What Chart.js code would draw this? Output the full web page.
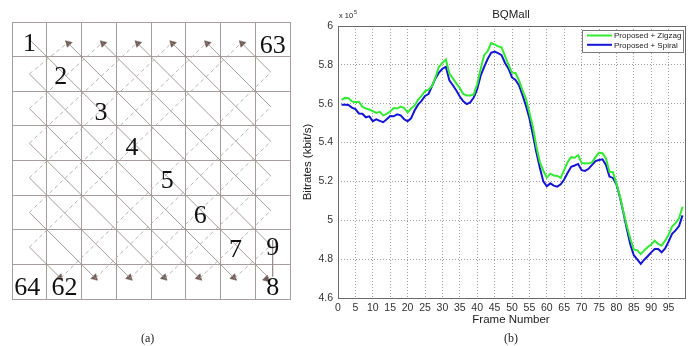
<!DOCTYPE html>
<html>
<head>
<meta charset="utf-8">
<title>Scan order and BQMall bitrates</title>
<script src="https://cdn.jsdelivr.net/npm/chart.js@4.4.1/dist/chart.umd.min.js"></script>
<style>
html, body { margin: 0; padding: 0; background: #fff; }
#page { position: relative; width: 689px; height: 346px; overflow: hidden; }
#scan { position: absolute; left: 0; top: 0; }
#rate { position: absolute; left: 290px; top: 0; }
.cap { position: absolute; top: 331px; font: 12px "Liberation Serif", serif; color: #222; }
</style>
</head>
<body>
<div id="page">
  <canvas id="scan" width="300" height="346"></canvas>
  <canvas id="rate" width="399" height="346"></canvas>
  <div class="cap" style="left:141px">(a)</div>
  <div class="cap" style="left:504px">(b)</div>
</div>
<script>
// ---- (b) data: bitrate per frame, in units of 1e5 kbit/s ----
var zigzag = [
  5.620, 5.630, 5.628, 5.612, 5.608, 5.610, 5.585, 5.575, 5.570, 5.562,
  5.553, 5.558, 5.540, 5.548, 5.560, 5.578, 5.575, 5.585, 5.578, 5.555,
  5.575, 5.590, 5.620, 5.640, 5.665, 5.672, 5.690, 5.735, 5.790, 5.810,
  5.828, 5.755, 5.730, 5.705, 5.680, 5.650, 5.642, 5.642, 5.648, 5.700,
  5.780, 5.850, 5.870, 5.912, 5.905, 5.895, 5.890, 5.845, 5.800, 5.760,
  5.758, 5.720, 5.670, 5.625, 5.555, 5.480, 5.380, 5.300, 5.255, 5.220,
  5.240, 5.230, 5.228, 5.218, 5.260, 5.300, 5.325, 5.322, 5.335, 5.295,
  5.292, 5.293, 5.298, 5.325, 5.348, 5.345, 5.318, 5.250, 5.248, 5.190,
  5.125, 5.045, 4.970, 4.905, 4.850, 4.845, 4.826, 4.845, 4.862, 4.875,
  4.895, 4.878, 4.870, 4.895, 4.925, 4.968, 4.985, 5.010, 5.070
];
var spiral = [
  5.595, 5.595, 5.594, 5.580, 5.572, 5.550, 5.548, 5.530, 5.535, 5.510,
  5.520, 5.512, 5.505, 5.520, 5.537, 5.535, 5.545, 5.540, 5.520, 5.510,
  5.525, 5.565, 5.595, 5.615, 5.640, 5.650, 5.690, 5.730, 5.760, 5.780,
  5.790, 5.720, 5.695, 5.668, 5.637, 5.612, 5.598, 5.607, 5.632, 5.675,
  5.745, 5.790, 5.830, 5.862, 5.868, 5.860, 5.850, 5.810, 5.780, 5.735,
  5.722, 5.695, 5.645, 5.590, 5.525, 5.440, 5.350, 5.270, 5.200, 5.175,
  5.190, 5.178, 5.173, 5.185, 5.210, 5.245, 5.275, 5.282, 5.290, 5.258,
  5.254, 5.265, 5.285, 5.305, 5.310, 5.314, 5.285, 5.225, 5.218, 5.186,
  5.120, 5.040, 4.955, 4.875, 4.820, 4.799, 4.776, 4.797, 4.815, 4.835,
  4.852, 4.852, 4.835, 4.855, 4.890, 4.930, 4.948, 4.970, 5.025
];
var seriesNames = ['Proposed + Zigzag', 'Proposed + Spiral'];
var xTicks = [0, 5, 10, 15, 20, 25, 30, 35, 40, 45, 50, 55, 60, 65, 70, 75, 80, 85, 90, 95];
var yTicks = [4.6, 4.8, 5.0, 5.2, 5.4, 5.6, 5.8, 6.0];

// ---- (a) data: 8x8 block, diagonal scan ----
var gridSize = 8;
var diagOffsets = [-6, -5, -4, -3, -2, -1, 0, 1, 2, 3, 4, 5, 6];
var cellLabels = [
  { t: '1',  x: 0.50, y: 0.59 }, { t: '2', x: 1.40, y: 1.54 }, { t: '3', x: 2.56, y: 2.59 },
  { t: '4',  x: 3.45, y: 3.60 }, { t: '5', x: 4.47, y: 4.56 }, { t: '6', x: 5.42, y: 5.57 },
  { t: '7',  x: 6.43, y: 6.55 }, { t: '9', x: 7.50, y: 6.49 }, { t: '8', x: 7.50, y: 7.65 },
  { t: '63', x: 7.50, y: 0.65 }, { t: '64', x: 0.44, y: 7.65 }, { t: '62', x: 1.51, y: 7.65 }
];

var SANS = '"Liberation Sans", Arial, sans-serif';
var SERIF = '"Liberation Serif", "Times New Roman", serif';

// ===== (a) scan diagram =====
function buildScanDatasets() {
  var sets = [];
  var arrows = [];
  function seg(a, b, dashed) {
    sets.push({
      type: 'line', data: [a, b], showLine: true, pointRadius: 0,
      borderColor: dashed ? '#b3a9a9' : '#9c9090', borderWidth: 0.9,
      borderDash: dashed ? [4, 3] : []
    });
  }
  diagOffsets.forEach(function(c) {
    var k = Math.abs(c);
    if (c < 0) {
      // solid from top arrow down to right corner, dashed back from the left corner
      seg({ x: k + 0.6, y: 0.6 }, { x: 7.45, y: 7.45 - k }, false);
      seg({ x: 0.5, y: k + 0.5 }, { x: k + 0.6, y: 0.6 }, true);
      arrows.push({ x: k + 0.62, y: 0.62, r: -45 });
    } else if (c === 0) {
      seg({ x: 0.5, y: 0.5 }, { x: 7.4, y: 7.4 }, false);
      arrows.push({ x: 7.32, y: 7.42, r: 135 });
    } else {
      seg({ x: 0.5, y: k + 0.5 }, { x: 7.4 - k, y: 7.4 }, false);
      seg({ x: 7.4 - k, y: 7.4 }, { x: 7.45, y: 7.45 - k }, true);
      arrows.push({ x: 7.38 - k, y: 7.38, r: 135 });
    }
  });
  seg({ x: 7.5, y: 6.3 }, { x: 7.5, y: 7.35 }, false);
  sets.push({
    type: 'scatter', data: arrows.map(function(a) { return { x: a.x, y: a.y }; }),
    pointStyle: 'triangle', pointRadius: 4, pointRotation: arrows.map(function(a) { return a.r; }),
    backgroundColor: '#6d5a55', borderColor: '#6d5a55', borderWidth: 0.5
  });
  return sets;
}

var scanLabels = {
  id: 'scanLabels',
  afterDatasetsDraw: function(chart) {
    var ctx = chart.ctx, sx = chart.scales.x, sy = chart.scales.y;
    var size = 26;
    ctx.save();
    ctx.fillStyle = '#111';
    ctx.font = size + 'px ' + SERIF;
    ctx.textAlign = 'center';
    ctx.textBaseline = 'alphabetic';
    cellLabels.forEach(function(l) {
      ctx.fillText(l.t, sx.getPixelForValue(l.x), sy.getPixelForValue(l.y) + size * 0.33);
    });
    ctx.restore();
  }
};

new Chart(document.getElementById('scan'), {
  type: 'scatter',
  data: { datasets: buildScanDatasets() },
  options: {
    responsive: false, animation: false, devicePixelRatio: 1,
    layout: { padding: { left: 12, right: 10, top: 22, bottom: 47 } },
    plugins: { legend: { display: false }, tooltip: { enabled: false } },
    scales: {
      x: {
        type: 'linear', min: 0, max: gridSize,
        ticks: { display: false, stepSize: 1 },
        grid: { color: '#a69e9c', lineWidth: 1, drawTicks: false },
        border: { display: true, color: '#a69e9c' },
        afterFit: function(s) { s.height = 0; }
      },
      y: {
        type: 'linear', min: 0, max: gridSize, reverse: true,
        ticks: { display: false, stepSize: 1 },
        grid: { color: '#a69e9c', lineWidth: 1, drawTicks: false },
        border: { display: true, color: '#a69e9c' },
        afterFit: function(s) { s.width = 0; }
      }
    }
  },
  plugins: [scanLabels]
});

// ===== (b) bitrate chart =====
var rateDecor = {
  id: 'rateDecor',
  afterDraw: function(chart) {
    var ctx = chart.ctx, a = chart.chartArea;
    ctx.save();
    // solid box
    ctx.strokeStyle = '#6a6a6a';
    ctx.lineWidth = 1;
    ctx.strokeRect(Math.round(a.left) + 0.5, Math.round(a.top) + 0.5,
      Math.round(a.right - a.left) - 1, Math.round(a.bottom - a.top));
    ctx.fillStyle = '#222';
    ctx.textAlign = 'center';
    ctx.textBaseline = 'middle';
    ctx.font = '11.5px ' + SANS;
    ctx.fillText('BQMall', (a.left + a.right) / 2 - 1, 15);
    ctx.fillText('Frame Number', (a.left + a.right) / 2 - 1, 320);
    ctx.save();
    ctx.translate(18, (a.top + a.bottom) / 2);
    ctx.rotate(-Math.PI / 2);
    ctx.fillText('Bitrates (kbit/s)', 0, 0);
    ctx.restore();
    // exponent
    ctx.textAlign = 'left';
    ctx.font = '7.5px ' + SANS;
    ctx.fillText('x 10', a.left + 1, 16);
    ctx.font = '5.5px ' + SANS;
    ctx.fillText('5', a.left + 16, 12);
    // legend
    var lx = 292, ly = 30, lw = 101, lh = 22;
    ctx.fillStyle = '#fff';
    ctx.fillRect(lx, ly, lw, lh);
    ctx.strokeStyle = '#7a7a7a';
    ctx.strokeRect(lx + 0.5, ly + 0.5, lw, lh);
    ctx.font = '8px ' + SANS;
    chart.data.datasets.forEach(function(ds, i) {
      var y = ly + 5.5 + i * 9.3;
      ctx.strokeStyle = ds.borderColor;
      ctx.lineWidth = 2;
      ctx.beginPath();
      ctx.moveTo(lx + 5, y);
      ctx.lineTo(lx + 30, y);
      ctx.stroke();
      ctx.fillStyle = '#222';
      ctx.fillText(ds.label, lx + 32, y + 0.5);
    });
    ctx.restore();
  }
};

function toPoints(values) {
  return values.map(function(v, i) { return { x: i + 1, y: v }; });
}

new Chart(document.getElementById('rate'), {
  type: 'line',
  data: {
    datasets: [
      { label: seriesNames[0], data: toPoints(zigzag), borderColor: '#33ea33', borderWidth: 2, pointRadius: 0, tension: 0 },
      { label: seriesNames[1], data: toPoints(spiral), borderColor: '#1515d6', borderWidth: 2, pointRadius: 0, tension: 0 }
    ]
  },
  options: {
    responsive: false, animation: false, devicePixelRatio: 1,
    layout: { padding: { left: 0, right: 3, top: 26, bottom: 0 } },
    plugins: { legend: { display: false }, tooltip: { enabled: false } },
    scales: {
      x: {
        type: 'linear', min: 0, max: 100,
        afterBuildTicks: function(s) { s.ticks = xTicks.map(function(v) { return { value: v }; }); },
        ticks: { color: '#333', font: { family: SANS, size: 10.5 }, padding: 4, maxRotation: 0, autoSkip: false },
        grid: { color: '#9e9e9e', lineWidth: 1, drawTicks: false },
        border: { display: false, dash: [1, 2] },
        afterFit: function(s) { s.height = 48; }
      },
      y: {
        type: 'linear', min: 4.6, max: 6,
        afterBuildTicks: function(s) { s.ticks = yTicks.map(function(v) { return { value: v }; }); },
        ticks: {
          color: '#333', font: { family: SANS, size: 10.5 }, padding: 5,
          callback: function(v) { return String(Math.round(v * 10) / 10); }
        },
        grid: { color: '#9e9e9e', lineWidth: 1, drawTicks: false },
        border: { display: false, dash: [1, 2] },
        afterFit: function(s) { s.width = 48; }
      }
    }
  },
  plugins: [rateDecor]
});
</script>
</body>
</html>
